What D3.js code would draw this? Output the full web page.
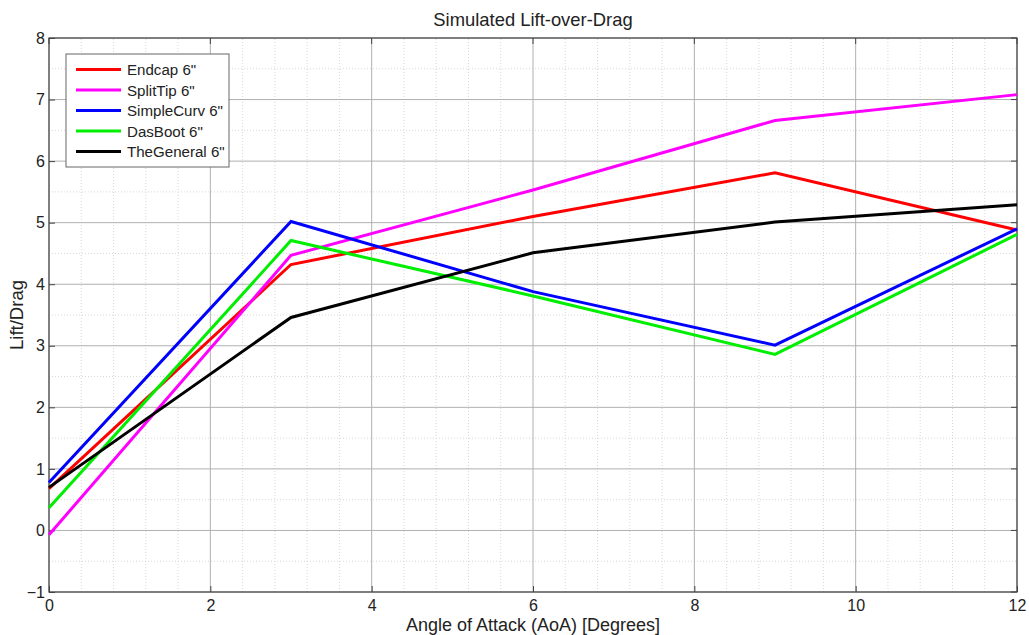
<!DOCTYPE html>
<html>
<head>
<meta charset="utf-8">
<script src="https://cdn.jsdelivr.net/npm/d3@7"></script>
<style>
  html, body { margin: 0; padding: 0; background: #fff; }
  svg { display: block; font-family: "Liberation Sans", Arial, sans-serif; }
</style>
</head>
<body>
<svg id="chart" width="1029" height="635"></svg>
<script>
// Angle of attack sample points (degrees)
const aoa = [0, 3, 6, 9, 12];

// Lift/Drag per wingtip design
const endcap     = [0.68, 4.32, 5.10, 5.81, 4.88];
const splitTip   = [-0.07, 4.47, 5.53, 6.66, 7.08];
const simpleCurv = [0.78, 5.02, 3.88, 3.01, 4.90];
const dasBoot    = [0.37, 4.71, 3.81, 2.86, 4.81];
const theGeneral = [0.70, 3.46, 4.51, 5.01, 5.29];

const seriesNames  = ['Endcap 6"', 'SplitTip 6"', 'SimpleCurv 6"', 'DasBoot 6"', 'TheGeneral 6"'];
const seriesValues = [endcap, splitTip, simpleCurv, dasBoot, theGeneral];
const seriesColors = ["#ff0000", "#ff00ff", "#0000ff", "#00ee00", "#000000"];

const xTicks = [0, 2, 4, 6, 8, 10, 12];
const yTicks = [-1, 0, 1, 2, 3, 4, 5, 6, 7, 8];

const svg = d3.select("#chart");
const W = 1029, H = 635;
const margin = { left: 49, right: W - 1017, top: 38, bottom: H - 592 };

const x = d3.scaleLinear().domain([0, 12]).range([margin.left, W - margin.right]);
const y = d3.scaleLinear().domain([-1, 8]).range([H - margin.bottom, margin.top]);

// Minor grid (dotted)
const xMinor = d3.range(0, 12.0001, 0.4).filter(v => Math.abs(v / 2 - Math.round(v / 2)) > 1e-6);
const yMinor = d3.range(-1, 8.0001, 0.5).filter(v => Math.abs(v - Math.round(v)) > 1e-6);
const grid = svg.append("g");
grid.selectAll(".xm").data(xMinor).join("line")
  .attr("x1", d => x(d)).attr("x2", d => x(d))
  .attr("y1", y(-1)).attr("y2", y(8))
  .attr("stroke", "#d8d8d8").attr("stroke-width", 1).attr("stroke-dasharray", "1,2");
grid.selectAll(".ym").data(yMinor).join("line")
  .attr("x1", x(0)).attr("x2", x(12))
  .attr("y1", d => y(d)).attr("y2", d => y(d))
  .attr("stroke", "#d8d8d8").attr("stroke-width", 1).attr("stroke-dasharray", "1,2");

// Major grid (solid)
grid.selectAll(".xM").data(xTicks).join("line")
  .attr("x1", d => x(d)).attr("x2", d => x(d))
  .attr("y1", y(-1)).attr("y2", y(8))
  .attr("stroke", "#b0b0b0").attr("stroke-width", 1);
grid.selectAll(".yM").data(yTicks).join("line")
  .attr("x1", x(0)).attr("x2", x(12))
  .attr("y1", d => y(d)).attr("y2", d => y(d))
  .attr("stroke", "#b0b0b0").attr("stroke-width", 1);

// Axes
const xAxis = d3.axisBottom(x).tickValues(xTicks).tickSizeInner(-6).tickSizeOuter(0).tickPadding(8).tickFormat(d3.format("d"));
const yAxis = d3.axisLeft(y).tickValues(yTicks).tickSizeInner(-6).tickSizeOuter(0).tickPadding(4).tickFormat(d3.format("d"));

const gx = svg.append("g").attr("transform", `translate(0,${y(-1)})`).call(xAxis);
const gy = svg.append("g").attr("transform", `translate(${x(0)},0)`).call(yAxis);
[gx, gy].forEach(g => {
  g.select(".domain").remove();
  g.selectAll(".tick line").attr("stroke", "#444");
  g.selectAll(".tick text").attr("font-size", 16).attr("fill", "#222")
    .attr("font-family", "'Liberation Sans', Arial, sans-serif");
});
// right-side and top ticks
svg.append("g").selectAll("line").data(yTicks).join("line")
  .attr("x1", x(12)).attr("x2", x(12) - 6)
  .attr("y1", d => y(d)).attr("y2", d => y(d)).attr("stroke", "#444");
svg.append("g").selectAll("line").data(xTicks).join("line")
  .attr("x1", d => x(d)).attr("x2", d => x(d))
  .attr("y1", y(8)).attr("y2", y(8) + 6).attr("stroke", "#444");

// Plot box
svg.append("rect")
  .attr("x", x(0)).attr("y", y(8))
  .attr("width", x(12) - x(0)).attr("height", y(-1) - y(8))
  .attr("fill", "none").attr("stroke", "#444").attr("stroke-width", 1.2);

// Series lines
const line = d3.line().x((d, i) => x(aoa[i])).y(d => y(d));
svg.append("g").selectAll("path").data(seriesValues).join("path")
  .attr("d", d => line(d))
  .attr("fill", "none")
  .attr("stroke", (d, i) => seriesColors[i])
  .attr("stroke-width", 3)
  .attr("stroke-linejoin", "miter");

// Title and axis labels
svg.append("text").attr("x", (x(0) + x(12)) / 2).attr("y", 26)
  .attr("text-anchor", "middle").attr("font-size", 18.4).attr("fill", "#222")
  .text("Simulated Lift-over-Drag");
svg.append("text").attr("x", (x(0) + x(12)) / 2).attr("y", 631)
  .attr("text-anchor", "middle").attr("font-size", 18).attr("fill", "#222")
  .text("Angle of Attack (AoA) [Degrees]");
svg.append("text")
  .attr("transform", `translate(23,${(y(-1) + y(8)) / 2}) rotate(-90)`)
  .attr("text-anchor", "middle").attr("font-size", 18.5).attr("fill", "#222")
  .text("Lift/Drag");

// Legend
const legend = svg.append("g").attr("transform", "translate(66,54)");
legend.append("rect").attr("width", 163).attr("height", 113)
  .attr("fill", "#fff").attr("stroke", "#666").attr("stroke-width", 1);
const rows = legend.selectAll("g.row").data(seriesNames).join("g")
  .attr("transform", (d, i) => `translate(0,${15.5 + i * 20.5})`);
rows.append("line").attr("x1", 10).attr("x2", 55).attr("y1", 0).attr("y2", 0)
  .attr("stroke", (d, i) => seriesColors[i]).attr("stroke-width", 3);
rows.append("text").attr("x", 61).attr("y", 5.5).attr("font-size", 15.1).attr("fill", "#222")
  .text(d => d);
</script>
</body>
</html>
